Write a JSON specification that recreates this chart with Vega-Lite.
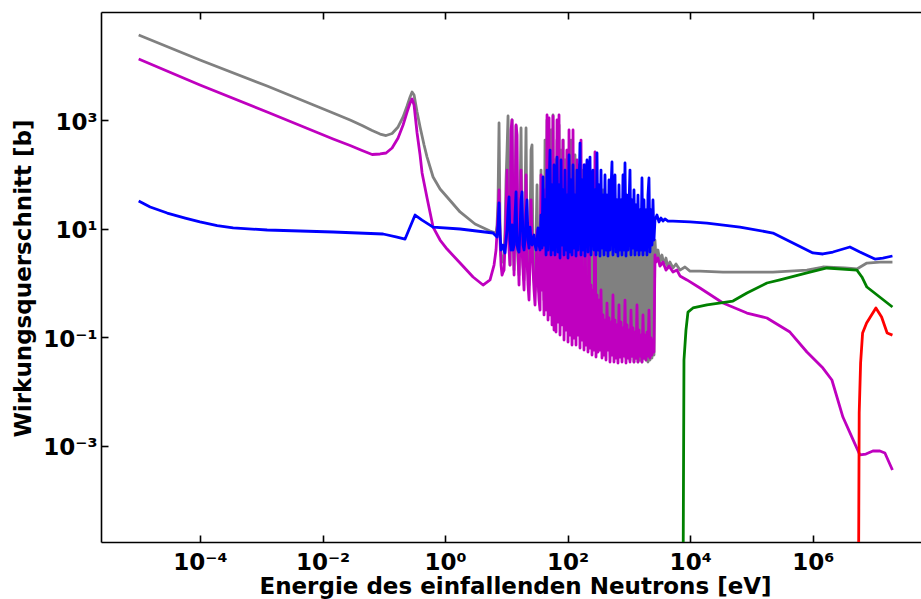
{
"$schema": "https://vega.github.io/schema/vega-lite/v6.json",
"width": 820, "height": 530,
"autosize": {"type": "none"},
"padding": {"left": 101, "top": 12, "right": 0, "bottom": 57},
"background": "white",
"config": {
 "view": {"stroke": null},
 "axis": {"grid": false, "domainColor": "black", "domainWidth": 1.6, "tickColor": "black", "tickWidth": 1.6, "labelColor": "black", "labelFont": "DejaVu Sans", "labelFontSize": 23, "labelFontWeight": "bold", "titleColor": "black", "titleFont": "DejaVu Sans", "titleFontSize": 23, "titleFontWeight": "bold", "labelFlush": false, "labelOverlap": false}
},
"data": {"values": [
{"E":1e-5,"total":36600,"fission":13280,"elastic":32.3},
{"E":1.54e-5,"elastic":25.1},
{"E":2.92e-5,"elastic":19.4},
{"E":5.74e-5,"elastic":15.7},
{"E":1e-4,"total":12710,"fission":4410,"elastic":13.3},
{"E":1.91e-4,"elastic":11.4},
{"E":3.48e-4,"elastic":10.3},
{"E":1.248e-3,"total":4220,"fission":1400,"elastic":9.45},
{"E":0.0149,"total":1346,"fission":447,"elastic":8.68},
{"E":0.0282,"total":1000,"fission":339},
{"E":0.04426,"total":792,"fission":275},
{"E":0.0645,"total":641,"fission":232},
{"E":0.08703,"total":552,"fission":237},
{"E":0.0975,"elastic":7.98},
{"E":0.109,"total":518,"fission":247},
{"E":0.1366,"total":564,"fission":305},
{"E":0.1648,"elastic":7.02},
{"E":0.1711,"total":744,"fission":467},
{"E":0.2065,"total":1136,"fission":809},
{"E":0.2225,"elastic":6.45},
{"E":0.2399,"total":1810,"fission":1400},
{"E":0.2685,"total":2651,"fission":2055,"elastic":10.7},
{"E":0.2896,"total":3274,"fission":2436},
{"E":0.312,"total":2885,"fission":1889},
{"E":0.3242,"elastic":17.8},
{"E":0.3493,"total":1404,"fission":577},
{"E":0.391,"total":744,"fission":227},
{"E":0.4216,"fission":106,"elastic":14.4},
{"E":0.4544,"total":347},
{"E":0.5085,"total":208,"fission":36.7},
{"E":0.6373,"total":89.3,"fission":10.7,"elastic":10.7},
{"E":0.8288,"total":53.7,"fission":6.18},
{"E":1.078,"total":38.3,"fission":4.22},
{"E":1.757,"total":20.3,"fission":2.33,"elastic":9.86},
{"E":2.862,"fission":1.29},
{"E":3.085,"total":12.2},
{"E":4.168,"fission":0.918},
{"E":5.421,"total":9.06,"fission":1.14},
{"E":6.068,"elastic":8.32},
{"E":6.3,"fission":2.14},
{"E":6.79,"total":8.32,"fission":4.05,"elastic":7.33},
{"E":7.05,"total":11.7,"fission":8.68,"elastic":7.02},
{"E":7.32,"total":33.7,"fission":17.8,"elastic":11.7},
{"E":7.6,"total":881,"fission":51.5,"elastic":29.7},
{"E":7.89,"total":11.7,"fission":6.18,"elastic":7.64},
{"E":8.19,"total":3.28,"fission":2.14,"elastic":4.05},
{"E":8.51,"total":2.43,"fission":1.4,"elastic":5.0},
{"E":8.84,"total":2.88,"fission":1.59,"elastic":5.0},
{"E":9.17,"total":3.28,"fission":1.73,"elastic":4.05},
{"E":9.52,"total":9.45,"fission":5.0,"elastic":3.57},
{"E":9.89,"total":78.7,"fission":22.1,"elastic":6.18},
{"E":10.27,"total":280,"fission":120,"elastic":9.45},
{"E":10.66,"total":1185,"fission":9.45,"elastic":22.1},
{"E":11.07,"total":33.7,"fission":4.05,"elastic":38.3},
{"E":11.49,"total":2.14,"fission":2.14,"elastic":6.18},
{"E":11.93,"total":33.7,"fission":655,"elastic":4.05},
{"E":12.39,"total":1000,"fission":1000,"elastic":11.7},
{"E":12.86,"total":9.45,"fission":14.4,"elastic":4.05},
{"E":13.36,"total":1.73,"fission":1.4,"elastic":5.0},
{"E":13.87,"total":33.7,"fission":22.1,"elastic":17.8},
{"E":14.4,"total":776,"fission":809,"elastic":47.3},
{"E":14.95,"total":6.18,"fission":530,"elastic":5.0},
{"E":15.52,"total":2.43,"fission":4.05,"elastic":4.05},
{"E":16.11,"total":1.4,"fission":0.918,"elastic":3.72},
{"E":16.73,"total":33.7,"fission":9.45,"elastic":9.45},
{"E":17.37,"total":713,"fission":120,"elastic":33.7},
{"E":18.04,"total":6.18,"fission":4.05,"elastic":47.3},
{"E":18.73,"total":2.14,"fission":1.73,"elastic":5.0},
{"E":19.45,"total":1.14,"fission":0.743,"elastic":4.05},
{"E":20.18,"total":33.7,"fission":6.18,"elastic":6.18},
{"E":20.96,"total":713,"fission":97.2,"elastic":17.8},
{"E":21.76,"total":4.05,"fission":2.65,"elastic":33.7},
{"E":22.59,"total":1.73,"fission":0.918,"elastic":6.18},
{"E":23.46,"total":0.918,"fission":0.486,"elastic":4.41},
{"E":24.35,"total":9.45,"fission":2.65,"elastic":10.7},
{"E":25.29,"total":280,"fission":33.7,"elastic":6.18},
{"E":26.26,"total":347,"fission":6.18,"elastic":5.0},
{"E":27.26,"total":2.65,"fission":1.73,"elastic":6.73},
{"E":28.31,"total":1.14,"fission":0.743,"elastic":7.64},
{"E":29.39,"total":0.743,"fission":0.394,"elastic":5.0},
{"E":30.51,"total":6.18,"fission":1.73,"elastic":4.05},
{"E":31.68,"total":63.6,"fission":9.45,"elastic":6.18},
{"E":32.89,"total":1.73,"fission":1.14,"elastic":10.3},
{"E":34.15,"total":0.683,"fission":0.486,"elastic":5.0},
{"E":35.46,"total":4.05,"fission":0.318,"elastic":4.05},
{"E":36.82,"total":120,"fission":97.2,"elastic":17.8},
{"E":38.23,"total":1.14,"fission":0.743,"elastic":4.41},
{"E":39.69,"total":9.45,"fission":4.05,"elastic":89.3},
{"E":41.21,"total":0.486,"fission":0.258,"elastic":5.0},
{"E":42.79,"total":428,"fission":51.5,"elastic":33.7},
{"E":44.43,"total":1.14,"fission":0.318,"elastic":3.28},
{"E":46.13,"total":1000,"fission":1236,"elastic":120},
{"E":47.89,"total":0.743,"fission":0.208,"elastic":4.05},
{"E":49.73,"total":33.7,"fission":1089,"elastic":51.5},
{"E":51.63,"total":0.601,"fission":0.258,"elastic":280},
{"E":53.6,"total":655,"fission":2.65,"elastic":3.28},
{"E":55.66,"total":0.486,"fission":0.169,"elastic":63.6},
{"E":57.79,"total":1236,"fission":1185,"elastic":4.05},
{"E":60.0,"total":0.394,"fission":0.136,"elastic":149},
{"E":62.29,"total":184,"fission":78.7,"elastic":3.28},
{"E":64.68,"total":0.486,"fission":0.125,"elastic":33.7},
{"E":67.15,"total":428,"fission":1000,"elastic":208},
{"E":69.72,"total":0.318,"fission":0.191,"elastic":3.72},
{"E":72.39,"total":809,"fission":1236,"elastic":63.6},
{"E":75.16,"total":0.394,"fission":0.11,"elastic":2.88},
{"E":78.04,"total":280,"fission":2.65,"elastic":184},
{"E":81.02,"total":0.258,"fission":0.169,"elastic":5.0},
{"E":84.12,"total":428,"fission":428,"elastic":51.5},
{"E":87.34,"total":0.318,"fission":0.0893,"elastic":3.28},
{"E":90.69,"total":184,"fission":2.14,"elastic":120},
{"E":94.16,"total":0.208,"fission":0.136,"elastic":4.05},
{"E":97.76,"total":280,"fission":280,"elastic":41.6},
{"E":101.5,"total":0.318,"fission":0.082,"elastic":2.88},
{"E":105.4,"total":149,"fission":655,"elastic":227},
{"E":109.4,"total":0.227,"fission":0.11,"elastic":3.72},
{"E":113.6,"total":428,"fission":1.73,"elastic":78.7},
{"E":118.0,"total":0.258,"fission":0.0722,"elastic":3.28},
{"E":122.5,"total":97.2,"fission":655,"elastic":149},
{"E":127.2,"total":0.191,"fission":0.0973,"elastic":4.41},
{"E":132.0,"total":227,"fission":2.14,"elastic":41.6},
{"E":137.1,"total":0.227,"fission":0.0722,"elastic":3.14},
{"E":142.3,"total":78.7,"fission":184,"elastic":120},
{"E":147.8,"total":0.169,"fission":0.11,"elastic":4.05},
{"E":153.4,"total":149,"fission":1.73,"elastic":51.5},
{"E":159.3,"total":0.208,"fission":0.0636,"elastic":377},
{"E":165.4,"total":63.6,"fission":428,"elastic":3.28},
{"E":171.7,"total":0.149,"fission":0.0893,"elastic":78.7},
{"E":178.3,"total":120,"fission":1.4,"elastic":4.05},
{"E":185.1,"total":0.191,"fission":0.0584,"elastic":149},
{"E":192.2,"total":41.6,"fission":149,"elastic":3.14},
{"E":199.6,"total":0.136,"fission":0.0722,"elastic":51.5},
{"E":207.2,"total":97.2,"fission":1.14,"elastic":184},
{"E":215.1,"total":0.169,"fission":0.0537,"elastic":3.72},
{"E":223.4,"total":51.5,"fission":97.2,"elastic":63.6},
{"E":231.9,"total":0.125,"fission":0.0636,"elastic":208},
{"E":240.8,"total":63.6,"fission":0.918,"elastic":3.28},
{"E":250.0,"total":0.149,"fission":0.0473,"elastic":41.6},
{"E":259.6,"total":33.7,"fission":0.743,"elastic":120},
{"E":269.5,"total":0.11,"fission":0.0584,"elastic":4.05},
{"E":279.8,"total":78.7,"fission":258,"elastic":51.5},
{"E":290.5,"total":0.136,"fission":0.0434,"elastic":3.28},
{"E":301.6,"total":27.3,"fission":0.601,"elastic":247},
{"E":313.2,"total":0.0973,"fission":0.0537,"elastic":4.05},
{"E":325.2,"total":41.6,"fission":0.486,"elastic":63.6},
{"E":337.6,"total":0.125,"fission":0.0584,"elastic":3.14},
{"E":350.5,"total":22.1,"fission":0.743,"elastic":120},
{"E":363.9,"total":0.0893,"fission":0.0416,"elastic":4.41},
{"E":377.9,"total":51.5,"fission":0.258,"elastic":41.6},
{"E":392.3,"total":0.106,"fission":0.0473,"elastic":3.28},
{"E":407.3,"total":27.3,"fission":0.208,"elastic":97.2},
{"E":422.9,"total":0.0722,"fission":0.0383,"elastic":4.05},
{"E":439.1,"total":33.7,"fission":0.428,"elastic":41.6},
{"E":455.9,"total":0.0893,"fission":0.0584,"elastic":3.14},
{"E":473.3,"total":17.8,"fission":0.227,"elastic":78.7},
{"E":491.4,"total":0.0584,"fission":0.0351,"elastic":4.05},
{"E":510.2,"total":27.3,"fission":0.191,"elastic":51.5},
{"E":529.8,"total":0.0722,"fission":0.0473,"elastic":169},
{"E":550.0,"total":22.1,"fission":0.601,"elastic":3.28},
{"E":571.1,"total":0.0537,"fission":0.0351,"elastic":41.6},
{"E":592.9,"total":33.7,"fission":0.208,"elastic":97.2},
{"E":615.6,"total":0.0636,"fission":0.0416,"elastic":3.72},
{"E":639.2,"total":17.8,"fission":0.169,"elastic":33.7},
{"E":663.6,"total":0.0473,"fission":0.0337,"elastic":3.14},
{"E":689.0,"total":22.1,"fission":0.394,"elastic":63.6},
{"E":715.4,"total":0.0584,"fission":0.0434,"elastic":4.05},
{"E":743.2,"total":14.4,"fission":0.191,"elastic":33.7},
{"E":771.6,"total":0.0453,"fission":0.0351,"elastic":3.28},
{"E":801.2,"total":27.3,"fission":0.149,"elastic":97.2},
{"E":831.8,"total":0.0537,"fission":0.0453,"elastic":4.05},
{"E":863.7,"total":17.8,"fission":0.486,"elastic":162},
{"E":896.7,"total":0.0416,"fission":0.0337,"elastic":3.14},
{"E":931.0,"total":22.1,"fission":0.169,"elastic":41.6},
{"E":966.7,"total":0.0473,"fission":0.0416,"elastic":4.05},
{"E":1004,"total":14.4,"fission":0.136,"elastic":27.3},
{"E":1042,"total":0.0383,"fission":0.0351,"elastic":120},
{"E":1082,"total":17.8,"fission":0.318,"elastic":3.28},
{"E":1123,"total":0.0453,"fission":0.0453,"elastic":33.7},
{"E":1166,"total":11.7,"fission":0.149,"elastic":4.41},
{"E":1211,"total":0.0351,"fission":0.0351,"elastic":51.5},
{"E":1257,"total":17.8,"fission":0.125,"elastic":3.28},
{"E":1305,"total":0.0416,"fission":0.0416,"elastic":27.3},
{"E":1355,"total":14.4,"fission":0.394,"elastic":4.05},
{"E":1407,"total":0.0351,"fission":0.0351,"elastic":41.6},
{"E":1461,"total":11.7,"fission":0.136,"elastic":3.28},
{"E":1517,"total":0.0383,"fission":0.0453,"elastic":22.1},
{"E":1575,"total":17.8,"fission":0.11,"elastic":4.05},
{"E":1635,"total":0.0351,"fission":0.0351,"elastic":85.6},
{"E":1698,"total":11.7,"fission":0.258,"elastic":3.28},
{"E":1763,"total":0.0416,"fission":0.0416,"elastic":33.7},
{"E":1830,"total":14.4,"fission":0.11,"elastic":4.05},
{"E":1900,"total":0.0383,"fission":0.0383,"elastic":22.1},
{"E":1973,"total":11.7,"fission":0.125,"elastic":3.28},
{"E":2048,"total":0.0351,"fission":0.0453,"elastic":41.6},
{"E":2127,"total":14.4,"fission":0.318,"elastic":85.6},
{"E":2208,"total":0.0383,"fission":0.0416,"elastic":3.72},
{"E":2293,"total":11.7,"fission":0.0973,"elastic":22.1},
{"E":2380,"total":0.0416,"fission":0.0473,"elastic":5.0},
{"E":2471,"total":13.3,"fission":0.0893,"elastic":33.7},
{"E":2566,"total":0.0473,"fission":0.0537,"elastic":6.18},
{"E":2664,"total":6.18,"fission":3.28,"elastic":14.4},
{"E":2766,"total":2.88,"fission":2.43},
{"E":2873,"elastic":17.8},
{"E":2982,"total":4.05,"fission":2.88},
{"E":3097,"elastic":13.3},
{"E":3214,"total":2.43,"fission":2.05},
{"E":3337,"elastic":15.7},
{"E":3465,"total":3.28},
{"E":3598,"fission":2.43,"elastic":13.8},
{"E":3735,"total":2.14},
{"E":3879,"elastic":15.1},
{"E":4027,"total":2.88,"fission":1.73},
{"E":4341,"total":1.89,"elastic":13.8},
{"E":4507,"fission":2.05},
{"E":4680,"total":2.43},
{"E":5237,"total":1.89,"fission":1.59,"elastic":13.8},
{"E":5866,"total":2.24},
{"E":6089,"fission":1.73},
{"E":6818,"total":1.73,"fission":1.35},
{"E":7630,"inelastic":1e-6},
{"E":7921,"inelastic":0.0383},
{"E":8226,"total":1.97},
{"E":8540,"inelastic":0.136},
{"E":8866,"fission":1.14},
{"E":9205,"inelastic":0.292},
{"E":9924,"total":1.66,"elastic":13.3},
{"E":11110,"inelastic":0.347},
{"E":14450,"total":1.66,"fission":0.809},
{"E":18790,"inelastic":0.394,"elastic":12.7},
{"E":34280,"total":1.59,"fission":0.428},
{"E":49910,"inelastic":0.466},
{"E":64930,"elastic":10.7},
{"E":84450,"inelastic":0.654,"fission":0.28},
{"E":178900,"inelastic":1.0,"fission":0.227},
{"E":224200,"total":1.59,"elastic":8.32},
{"E":291500,"inelastic":1.14},
{"E":424600,"fission":0.125},
{"E":475200,"elastic":5.44},
{"E":804000,"total":1.73,"inelastic":1.53,"fission":0.0537},
{"E":1007000,"elastic":3.57},
{"E":1467000,"total":1.97,"fission":0.0272,"elastic":3.42},
{"E":1704000,"inelastic":1.89},
{"E":2056000,"fission":0.0164},
{"E":2135000,"elastic":3.72},
{"E":3109000,"fission":0.00341},
{"E":3351000,"total":1.89},
{"E":4043000,"elastic":4.6},
{"E":4358000,"fission":0.00146},
{"E":5259000,"total":1.81,"inelastic":1.73},
{"E":5565000,"n2n":1e-6},
{"E":5735000,"n2n":0.00404},
{"E":5886000,"fission":0.000683,"elastic":3.72},
{"E":6044000,"n2n":0.0337},
{"E":6346000,"total":2.05,"inelastic":1.29},
{"E":6514000,"n2n":0.12},
{"E":7375000,"fission":0.000712},
{"E":7571000,"n2n":0.184},
{"E":7656000,"total":2.33,"inelastic":0.844},
{"E":9592000,"fission":0.000809},
{"E":10340000,"elastic":2.76},
{"E":10740000,"n2n":0.347},
{"E":12480000,"total":2.43,"fission":0.000809},
{"E":13300000,"n2n":0.237},
{"E":13960000,"elastic":2.88},
{"E":15060000,"fission":0.000743},
{"E":16400000,"n2n":0.12},
{"E":20000000,"total":2.43,"fission":0.000361,"elastic":3.14,"inelastic":0.362,"n2n":0.11}
]},
"layer": [
 {"transform": [{"filter": "isValid(datum.total)"}],
  "mark": {"type": "line", "color": "#808080", "strokeWidth": 2.8, "clip": true, "strokeJoin": "round"},
  "encoding": {
   "x": {"field": "E", "type": "quantitative", "scale": {"type": "log", "domain": [2.427e-6, 5.848e7], "nice": false},
    "axis": {"orient": "bottom", "values": [0.0001, 0.01, 1, 100, 10000, 1000000], "tickSize": -7, "labelPadding": 16,
     "labelExpr": "'10' + (round(log(datum.value)/LN10) == -4 ? '⁻⁴' : round(log(datum.value)/LN10) == -2 ? '⁻²' : round(log(datum.value)/LN10) == 0 ? '⁰' : round(log(datum.value)/LN10) == 2 ? '²' : round(log(datum.value)/LN10) == 4 ? '⁴' : '⁶')",
     "title": "Energie des einfallenden Neutrons [eV]", "titleX": 414, "titleY": 51, "titleBaseline": "alphabetic", "titleAlign": "center"}},
   "y": {"field": "total", "type": "quantitative", "scale": {"type": "log", "domain": [1.71e-5, 97270], "nice": false},
    "axis": {"orient": "left", "values": [0.001, 0.1, 10, 1000], "tickSize": -7, "labelPadding": 11, "labelOffset": 2,
     "labelExpr": "'10' + (round(log(datum.value)/LN10) == -3 ? '⁻³' : round(log(datum.value)/LN10) == -1 ? '⁻¹' : round(log(datum.value)/LN10) == 1 ? '¹' : '³')",
     "title": "Wirkungsquerschnitt [b]", "titleX": -71, "titleY": 266, "titleAngle": -90, "titleBaseline": "alphabetic", "titleAlign": "center"}}
  }},
 {"transform": [{"filter": "isValid(datum.fission)"}],
  "mark": {"type": "line", "color": "#bf00bf", "strokeWidth": 2.8, "clip": true, "strokeJoin": "round"},
  "encoding": {
   "x": {"field": "E", "type": "quantitative", "scale": {"type": "log", "domain": [2.427e-6, 5.848e7], "nice": false},
    "axis": {"orient": "top", "values": [0.0001, 0.01, 1, 100, 10000, 1000000], "tickSize": -7, "labels": false, "title": null}},
   "y": {"field": "fission", "type": "quantitative", "scale": {"type": "log", "domain": [1.71e-5, 97270], "nice": false}, "axis": null}
  }},
 {"transform": [{"filter": "isValid(datum.elastic)"}],
  "mark": {"type": "line", "color": "#0000ff", "strokeWidth": 2.8, "clip": true, "strokeJoin": "round"},
  "encoding": {
   "x": {"field": "E", "type": "quantitative", "scale": {"type": "log", "domain": [2.427e-6, 5.848e7], "nice": false}, "axis": null},
   "y": {"field": "elastic", "type": "quantitative", "scale": {"type": "log", "domain": [1.71e-5, 97270], "nice": false}, "axis": null}
  }},
 {"transform": [{"filter": "isValid(datum.inelastic)"}],
  "mark": {"type": "line", "color": "#008000", "strokeWidth": 2.8, "clip": true, "strokeJoin": "round"},
  "encoding": {
   "x": {"field": "E", "type": "quantitative", "scale": {"type": "log", "domain": [2.427e-6, 5.848e7], "nice": false}, "axis": null},
   "y": {"field": "inelastic", "type": "quantitative", "scale": {"type": "log", "domain": [1.71e-5, 97270], "nice": false}, "axis": null}
  }},
 {"transform": [{"filter": "isValid(datum.n2n)"}],
  "mark": {"type": "line", "color": "#ff0000", "strokeWidth": 2.8, "clip": true, "strokeJoin": "round"},
  "encoding": {
   "x": {"field": "E", "type": "quantitative", "scale": {"type": "log", "domain": [2.427e-6, 5.848e7], "nice": false}, "axis": null},
   "y": {"field": "n2n", "type": "quantitative", "scale": {"type": "log", "domain": [1.71e-5, 97270], "nice": false}, "axis": null}
  }}
],
"resolve": {"axis": {"x": "independent", "y": "independent"}}
}
